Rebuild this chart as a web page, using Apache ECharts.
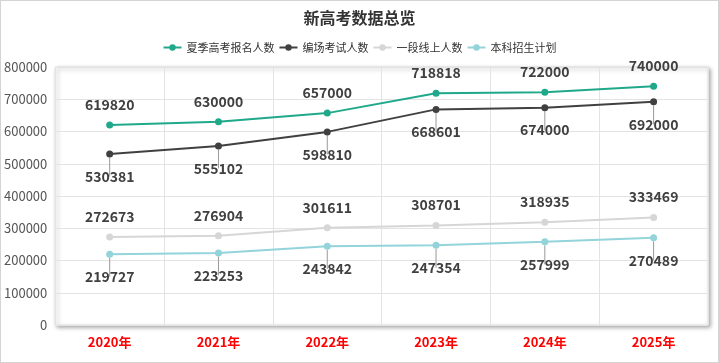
<!DOCTYPE html>
<html><head><meta charset="utf-8">
<script src="https://cdn.jsdelivr.net/npm/echarts@6/dist/echarts.min.js"></script>
<style>
html,body{margin:0;padding:0;background:#fff;}
#c{width:719px;height:363px;box-sizing:border-box;border:1px solid #d4d4d4;}
</style></head>
<body><div id="c"></div>
<script>
const categories = ['2020年','2021年','2022年','2023年','2024年','2025年'];
const seriesNames = ['夏季高考报名人数','编场考试人数','一段线上人数','本科招生计划'];
const applicants = [619820, 630000, 657000, 718818, 722000, 740000];
const examTakers = [530381, 555102, 598810, 668601, 674000, 692000];
const tier1 = [272673, 276904, 301611, 308701, 318935, 333469];
const undergradPlan = [219727, 223253, 243842, 247354, 257999, 270489];
const yTicks = [0, 100000, 200000, 300000, 400000, 500000, 600000, 700000, 800000];

const colors = ['#1fa98a', '#404040', '#d6d6d6', '#92d4da'];
const FONT = '"Noto Sans CJK SC", "Noto Sans", sans-serif';
function mk(name, data, color, pos) {
  return {
    name, type: 'line', data, symbol: 'circle', symbolSize: 7,
    lineStyle: { color, width: 2 }, itemStyle: { color },
    label: { show: true, position: pos, distance: pos === 'top' ? 10 : 12,
      fontFamily: FONT, fontSize: 14, fontWeight: 'bold', color: '#404040' },
    labelLine: { show: pos === 'bottom', lineStyle: { color: '#999', width: 1 } }
  };
}
const chart = echarts.init(document.getElementById('c'));
chart.setOption({
  backgroundColor: '#fff',
  animation: false,
  textStyle: { fontFamily: FONT },
  title: { text: '新高考数据总览', left: 'center', top: 4,
    textStyle: { fontFamily: FONT, fontSize: 16, fontWeight: 'bold', color: '#333' } },
  legend: { top: 36, left: 'center', itemWidth: 18, itemHeight: 8, itemGap: 4,
    textStyle: { fontFamily: FONT, fontSize: 11, color: '#333' }, data: seriesNames },
  grid: { left: 54, right: 10, top: 66, bottom: 37, show: true, backgroundColor: '#fff',
    borderColor: '#e0e0e0', borderWidth: 1, shadowColor: 'rgba(0,0,0,0.35)', shadowBlur: 4,
    shadowOffsetX: 2, shadowOffsetY: 2 },
  xAxis: { type: 'category', data: categories, boundaryGap: true,
    axisLine: { show: false }, axisTick: { show: false },
    splitLine: { show: true, lineStyle: { color: '#e3e3e3' } },
    axisLabel: { color: '#ff0000', fontWeight: 'bold', fontSize: 13, margin: 11, fontFamily: FONT } },
  yAxis: { type: 'value', min: yTicks[0], max: yTicks[yTicks.length - 1], interval: 100000,
    axisLine: { show: false }, axisTick: { show: false },
    splitLine: { lineStyle: { color: '#e3e3e3' } },
    axisLabel: { color: '#555', fontSize: 13, margin: 8, fontFamily: FONT,
      formatter: v => String(v) } },
  series: [
    mk(seriesNames[0], applicants, colors[0], 'top'),
    mk(seriesNames[1], examTakers, colors[1], 'bottom'),
    mk(seriesNames[2], tier1, colors[2], 'top'),
    mk(seriesNames[3], undergradPlan, colors[3], 'bottom')
  ]
});
</script></body></html>
